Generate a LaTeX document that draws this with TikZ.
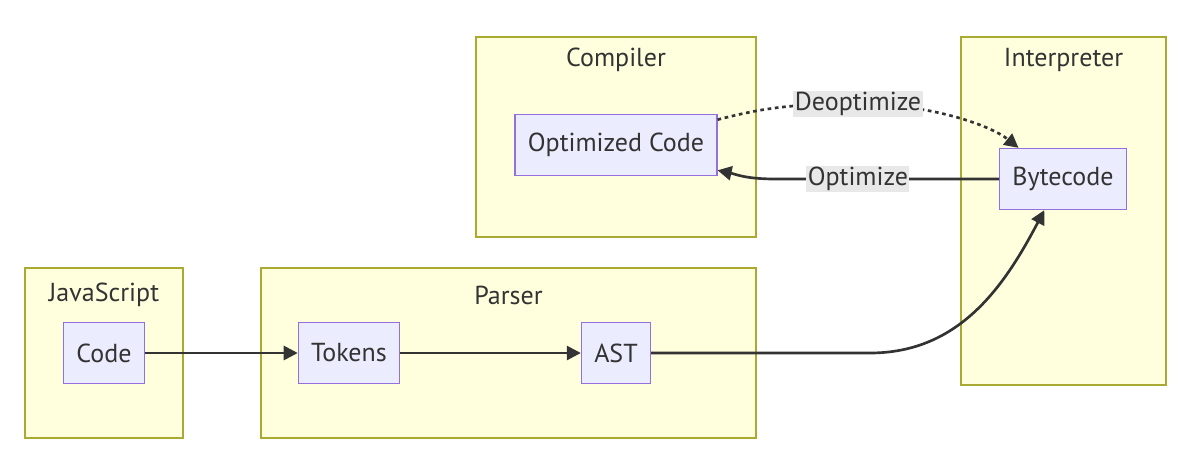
\documentclass[tikz,border=0pt]{standalone}
\usepackage{fontspec}
\setmainfont{PT Sans}
\usetikzlibrary{arrows.meta, positioning, calc}

\definecolor{clusterfill}{HTML}{FFFFDE}
\definecolor{clusterline}{HTML}{AAAA33}
\definecolor{boxfill}{HTML}{ECECFF}
\definecolor{boxline}{HTML}{9370DB}
\definecolor{edgegray}{HTML}{333333}
\definecolor{textgray}{HTML}{333333}
\definecolor{lblgray}{HTML}{E8E8E8}

\newcommand{\mfont}{\fontsize{18.5}{21}\selectfont}

\begin{document}
\begin{tikzpicture}[
    x=0.025cm, y=-0.025cm,
    cluster/.style={draw=clusterline, fill=clusterfill, line width=0.9pt, rectangle, inner sep=0pt},
    box/.style={draw=boxline, fill=boxfill, line width=0.9pt, rectangle, minimum height=1.525cm, inner xsep=0.32cm, font=\mfont, text=textgray},
    title/.style={font=\mfont, text=textgray},
    edge/.style={draw=edgegray, line width=1.9pt, -{Triangle[length=10pt,width=10pt]}},
    lbl/.style={fill=lblgray, inner sep=1pt, font=\mfont, text=textgray}
]
\useasboundingbox (0,0) rectangle (1200,458);

% Clusters
\node[cluster, minimum width=3.95cm, minimum height=4.25cm] (js) at (104,353) {};
\node[cluster, minimum width=12.375cm, minimum height=4.25cm] (parser) at (508.5,353) {};
\node[cluster, minimum width=7cm, minimum height=5cm] (compiler) at (616,137) {};
\node[cluster, minimum width=5.125cm, minimum height=8.7cm] (interp) at (1063.5,211) {};

\node[title] (jsT) at (104,295) {JavaScript};
\node[title] (parserT) at (508.5,295) {Parser};
\node[title] (compilerT) at (616,60) {Compiler};
\node[title] (interpT) at (1063.5,60) {Interpreter};

% Nodes
\node[box] (code) at (104,353) {Code};
\node[box] (tokens) at (349,353) {Tokens};
\node[box] (ast) at (616,353) {AST};
\node[box] (opt) at (616,145) {Optimized Code};
\node[box] (byte) at (1063,179) {Bytecode};

% Edges
\draw[edge] (code) -- (tokens);
\draw[edge] (tokens) -- (ast);
\draw[edge] (ast.east) -- (870,353) .. controls (960,353) and (1005,285) .. (byte.239);
\draw[edge] (byte.west) -- node[lbl, pos=0.63] {Optimize} (775,179) .. controls (745,179) and (735,174) .. (opt.-14);
\draw[edge, dash pattern=on 2.6pt off 2.6pt] (opt.14) .. controls (770,106) and (800,104) .. (858,104) node[lbl] {Deoptimize}
    .. controls (930,104) and (990,125) .. (byte.145);

\end{tikzpicture}
\end{document}
